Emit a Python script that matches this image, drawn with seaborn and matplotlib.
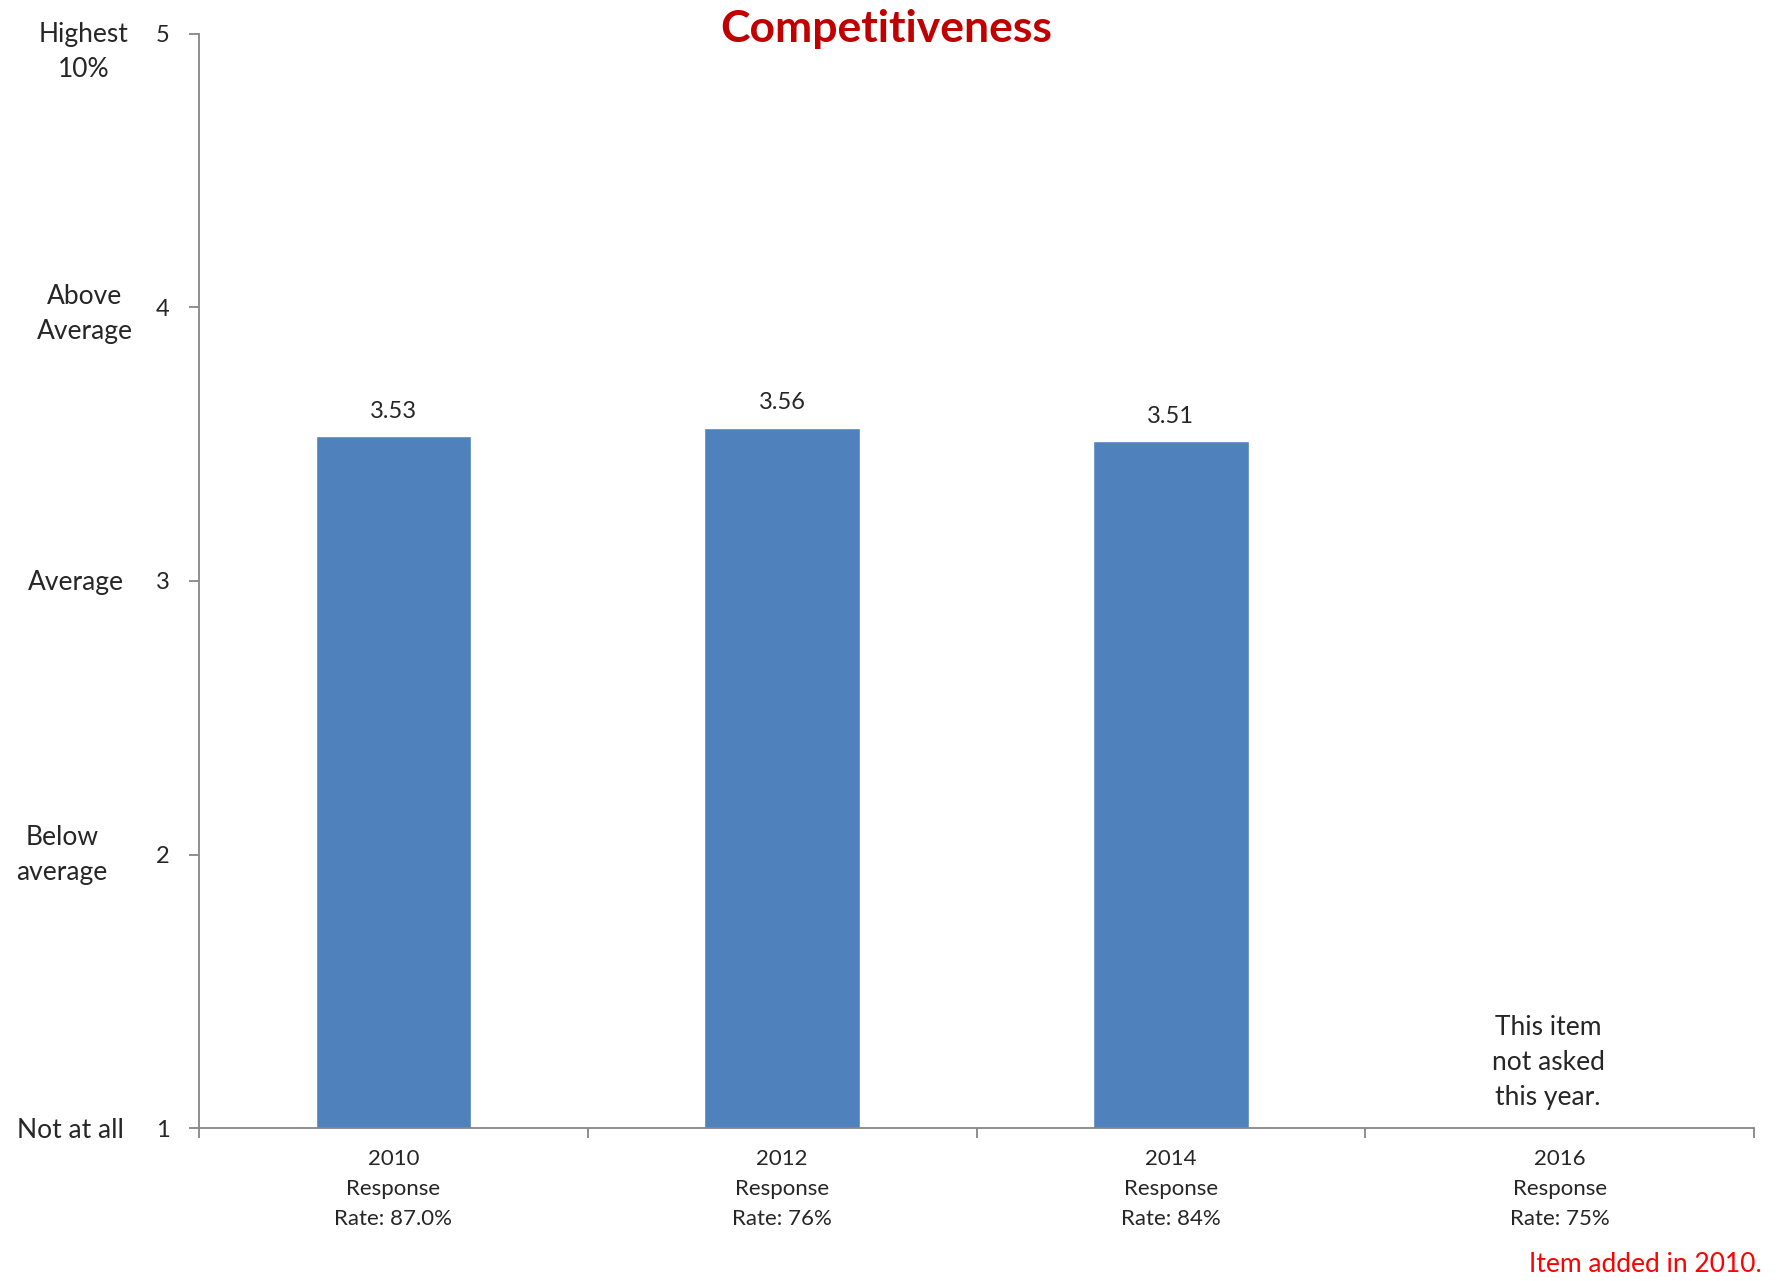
import numpy as np
import pandas as pd
import seaborn as sns
import matplotlib.pyplot as plt
from matplotlib.ticker import FixedLocator

# data
years = ['2010', '2012', '2014', '2016']
response_rates = ['87.0%', '76%', '84%', '75%']
scores = [3.53, 3.56, 3.51, np.nan]  # 2016 not asked
scale_values = [1, 2, 3, 4, 5]
scale_names = ['Not at all', 'Below\naverage', 'Average', 'Above\nAverage', 'Highest\n10%']

labels = [y + '\nResponse\nRate: ' + r for y, r in zip(years, response_rates)]
df = pd.DataFrame({'label': labels, 'score': scores})

sns.set_style("white", {'xtick.bottom': True, 'ytick.left': True})
plt.rcParams['font.family'] = ['Lato', 'DejaVu Sans']

fig = plt.figure(figsize=(17.8, 12.81), dpi=100)
ax = fig.add_axes([0.1118, 0.1194, 0.8736, 0.8541])

sns.barplot(data=df, x='label', y='score', order=labels, color='#4F81BD',
            saturation=1, width=0.4, ax=ax)

ax.set_ylim(1, 5)
ax.set_xlim(-0.5, 3.5)
ax.set_yticks(scale_values)
ax.set_yticklabels([str(v) for v in scale_values], fontsize=17)
ax.xaxis.set_major_locator(FixedLocator(range(len(labels))))
ax.set_xticklabels(labels, fontsize=16, linespacing=1.62)
ax.xaxis.set_minor_locator(FixedLocator(np.arange(-0.5, 4, 1)))
ax.tick_params(axis='x', which='major', length=0, pad=15)
ax.tick_params(axis='x', which='minor', bottom=True, length=7, width=1.3,
               color='#868686', direction='out')
ax.tick_params(axis='y', left=True, length=7, width=1.3, color='#868686',
               direction='out', pad=14)
ax.set_xlabel('')
ax.set_ylabel('')

for s in ['top', 'right']:
    ax.spines[s].set_visible(False)
for s in ['left', 'bottom']:
    ax.spines[s].set_color('#868686')
    ax.spines[s].set_linewidth(1.3)

# value labels on top of bars
for i, v in enumerate(scores):
    if not np.isnan(v):
        ax.annotate(f'{v:.2f}', (i, v), xytext=(0, 18), textcoords='offset points',
                    ha='center', va='center', fontsize=17)

# verbal scale on the left
name_x = [-0.083, -0.088, -0.079, -0.0733, -0.074]
name_dy = [-0.01, 0.0, -0.005, -0.025, -0.066]
for v, name, nx, dy in zip(scale_values, scale_names, name_x, name_dy):
    ax.text(nx, v + dy, name, transform=ax.get_yaxis_transform(), ha='center',
            va='center', fontsize=19, linespacing=1.5, clip_on=False)

ax.text(2.97, 1.24, 'This item\nnot asked\nthis year.', ha='center', va='center',
        fontsize=19, linespacing=1.5)

fig.text(0.498, 0.977, 'Competitiveness', ha='center', va='center', fontsize=32,
         fontweight='bold', color='#C00000')
fig.text(0.990, 0.0125, 'Item added in 2010.', ha='right', va='center', fontsize=19,
         color='#FF0000')

fig.savefig('out.png', dpi=100)
